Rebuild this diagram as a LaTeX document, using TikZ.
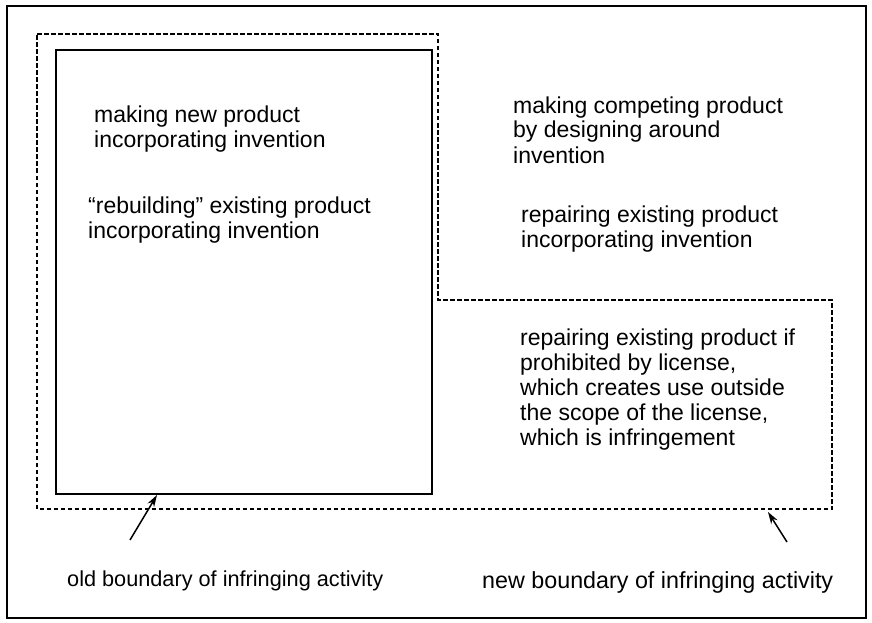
\documentclass[tikz,border=0pt]{standalone}
\usepackage{fontspec}
\setmainfont{Liberation Sans}
\usetikzlibrary{arrows.meta}
\begin{document}
\begin{tikzpicture}[x=1pt,y=-1pt,
  lbl/.style={anchor=base west,inner sep=0pt,align=left,font=\fontsize{23}{25}\selectfont},
  captext/.style={anchor=base west,inner sep=0pt},
  bnd/.style={line width=1.4pt,dash pattern=on 4.5pt off 2.5pt},
  pointer/.style={line width=1.5pt,-{Stealth[length=12pt,width=7.5pt]}}]
\useasboundingbox (0,0) rectangle (872,623);
\draw[line width=1.2pt] (7,6) rectangle (866,618);
\draw[line width=1.3pt] (56,50) rectangle (432,494);
\draw[bnd] (37,34) -- (438,34) -- (438,300) -- (832,300) -- (832,509) -- (37,509) -- cycle;
\node[lbl] (t1) at (94,147) {making new product\\incorporating invention};
\node[lbl] (t2) at (88,238) {“rebuilding” existing product\\incorporating invention};
\node[lbl] (t3) at (513,163) {making competing product\\by designing around\\invention};
\node[lbl] (t4) at (521,247) {repairing existing product\\incorporating invention};
\node[lbl] (t5) at (520,445) {repairing existing product if\\prohibited by license,\\which creates use outside\\the scope of the license,\\which is infringement};
\node[captext,font=\fontsize{21.7}{25}\selectfont] (l1) at (67,586) {old boundary of infringing activity};
\node[captext,font=\fontsize{23.3}{25}\selectfont] (l2) at (482,588) {new boundary of infringing activity};
\coordinate (a1s) at (130,540);
\coordinate (a1e) at (157,495);
\coordinate (a2s) at (787,542);
\coordinate (a2e) at (768,512);
\draw[pointer] (a1s) -- (a1e);
\draw[pointer] (a2s) -- (a2e);
\end{tikzpicture}
\end{document}
